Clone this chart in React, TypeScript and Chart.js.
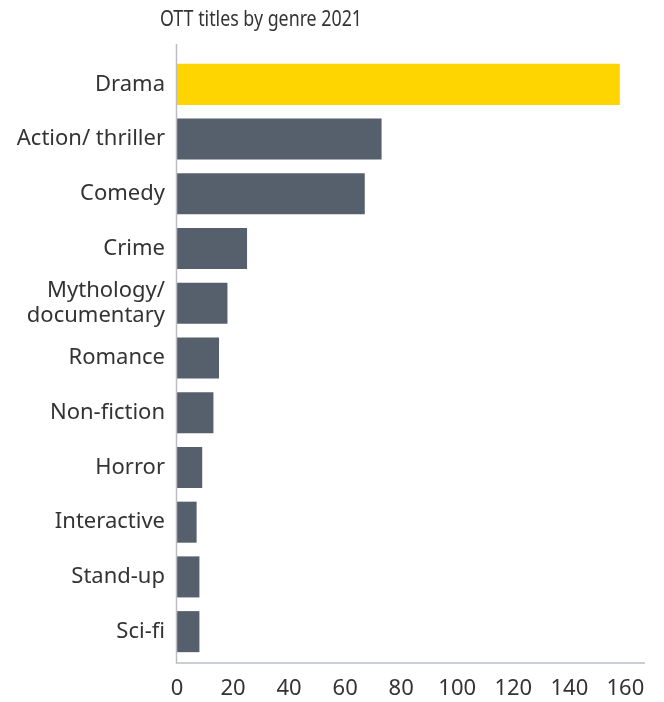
import React, { useEffect, useRef } from "react";
import { Chart, registerables } from "chart.js";

Chart.register(...registerables);

const TITLE = "OTT titles by genre 2021";
const CATEGORIES: (string | string[])[] = [
  "Drama",
  "Action/ thriller",
  "Comedy",
  "Crime",
  ["Mythology/", "documentary"],
  "Romance",
  "Non-fiction",
  "Horror",
  "Interactive",
  "Stand-up",
  "Sci-fi",
];
const VALUES = [158, 73, 67, 25, 18, 15, 13, 9, 7, 8, 8];
const X_TICKS = [0, 20, 40, 60, 80, 100, 120, 140, 160];

const YELLOW = "#FFD500";
const GREY = "#56606C";
const AXIS = "#BABEC4";
const TEXT = "#333333";
const FONT = "'Noto Sans', sans-serif";

const axisLines = {
  id: "axisLines",
  afterDraw(chart: any) {
    const { ctx, chartArea } = chart;
    ctx.save();
    ctx.strokeStyle = AXIS;
    ctx.lineWidth = 1.5;
    ctx.beginPath();
    ctx.moveTo(chartArea.left - 0.5, chartArea.top - 13);
    ctx.lineTo(chartArea.left - 0.5, chartArea.bottom + 4);
    ctx.lineTo(chartArea.right, chartArea.bottom + 4);
    ctx.stroke();
    ctx.fillStyle = TEXT;
    ctx.font = `21px ${FONT}`;
    ctx.textAlign = "center";
    ctx.textBaseline = "alphabetic";
    const w = ctx.measureText(TITLE).width;
    const sx = Math.min(1, 202 / w);
    ctx.translate(261, 26);
    ctx.scale(sx, 1);
    ctx.fillText(TITLE, 0, 0);
    ctx.restore();
  },
};

export default function App() {
  const ref = useRef<HTMLCanvasElement | null>(null);
  useEffect(() => {
    document.body.style.margin = "0";
    const chart = new Chart(ref.current as HTMLCanvasElement, {
      type: "bar",
      data: {
        labels: CATEGORIES,
        datasets: [
          {
            data: VALUES,
            backgroundColor: VALUES.map((_, i) => (i === 0 ? YELLOW : GREY)),
            borderWidth: 0,
            barPercentage: 0.75,
            categoryPercentage: 1,
          },
        ],
      },
      options: {
        indexAxis: "y",
        animation: false,
        responsive: false,
        maintainAspectRatio: false,
        layout: { padding: { top: 57, right: 19, left: 0, bottom: 0 } },
        plugins: { legend: { display: false }, title: { display: false }, tooltip: { enabled: false } },
        scales: {
          x: {
            min: 0,
            max: 167,
            grid: { display: false, drawTicks: false },
            border: { display: false },
            afterFit: (s: any) => {
              s.height = 43;
            },
            afterBuildTicks: (s: any) => {
              s.ticks = X_TICKS.map((v) => ({ value: v }));
            },
            ticks: {
              autoSkip: false,
              maxRotation: 0,
              padding: 17,
              color: TEXT,
              font: { family: FONT, size: 22 },
            },
          },
          y: {
            grid: { display: false, drawTicks: false },
            border: { display: false },
            afterFit: (s: any) => {
              s.width = 177;
            },
            ticks: {
              autoSkip: false,
              padding: 12,
              color: TEXT,
              font: { family: FONT, size: 22, lineHeight: 1.1 },
            },
          },
        },
      },
      plugins: [axisLines],
    });
    return () => chart.destroy();
  }, []);
  return (
    <div style={{ width: 664, height: 702 }}>
      <canvas ref={ref} width={664} height={702} style={{ display: "block" }} />
    </div>
  );
}
